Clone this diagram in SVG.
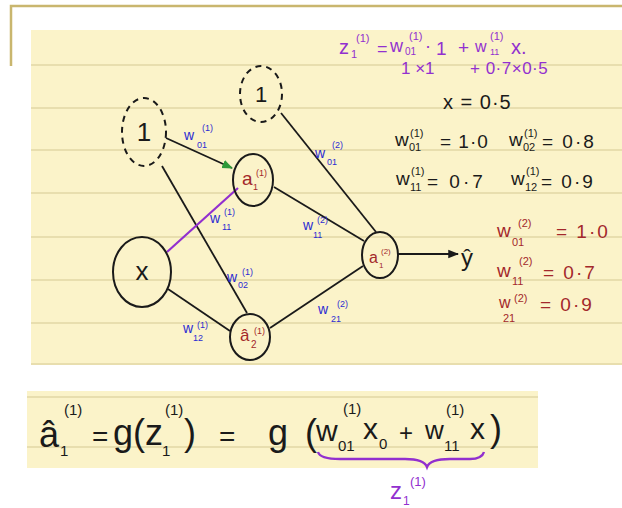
<svg xmlns="http://www.w3.org/2000/svg" width="622" height="508" viewBox="0 0 622 508">
<defs>
<style>
text{font-family:"Liberation Sans","DejaVu Sans",sans-serif;}
.paper{fill:#fbf3c9;}
.rule{stroke:#e2d7a4;stroke-width:1.5;}
.node{fill:none;stroke:#1a1a1a;stroke-width:2;}
.bias{fill:none;stroke:#1a1a1a;stroke-width:2;stroke-dasharray:6 5;}
.edge{stroke:#1a1a1a;stroke-width:1.8;fill:none;}
.blk{fill:#1a1a1a;}
.red{fill:#a3282b;}
.blu{fill:#2b2bd2;}
.pur{fill:#9230cf;}
.b{font-size:14px;}
.bs{font-size:9px;}
.eq{font-size:19px;}
.es{font-size:11px;}
.big{font-size:36px;}
.bsm{font-size:15px;}
</style>
<marker id="ga" viewBox="0 0 10 10" refX="9" refY="5" markerWidth="6" markerHeight="6" orient="auto"><path d="M0,1 L10,5 L0,9 z" fill="#2e9a3a"/></marker>
<marker id="ba" viewBox="0 0 10 10" refX="9" refY="5" markerWidth="6" markerHeight="6" orient="auto"><path d="M0,1 L10,5 L0,9 z" fill="#1a1a1a"/></marker>
</defs>

<!-- backdrop -->
<rect width="622" height="508" fill="#ffffff"/>
<polyline points="11,66 11,6 622,6" fill="none" stroke="#c9b66e" stroke-width="2.5"/>
<rect class="paper" x="31" y="30" width="591" height="335"/>
<g class="rule">
<line x1="31" y1="65" x2="622" y2="65"/>
<line x1="31" y1="108" x2="622" y2="108"/>
<line x1="31" y1="150" x2="622" y2="150"/>
<line x1="31" y1="193" x2="622" y2="193"/>
<line x1="31" y1="237" x2="622" y2="237"/>
<line x1="31" y1="280" x2="622" y2="280"/>
<line x1="31" y1="323" x2="622" y2="323"/>
<line x1="31" y1="364" x2="622" y2="364"/>
</g>
<rect class="paper" x="27" y="391" width="511" height="77"/>
<g class="rule">
<line x1="27" y1="397" x2="538" y2="397"/>
<line x1="27" y1="447" x2="538" y2="447"/>
</g>

<!-- connectors -->
<g id="connectors">
<line class="edge" x1="166" y1="138" x2="232" y2="168" marker-end="url(#ga)"/>
<line class="edge" x1="162" y1="166" x2="247" y2="313"/>
<line x1="167" y1="252" x2="238" y2="188" stroke="#9230cf" stroke-width="2.2"/>
<line class="edge" x1="168" y1="289" x2="230" y2="331"/>
<line class="edge" x1="274" y1="187" x2="364" y2="241"/>
<line class="edge" x1="270" y1="328" x2="363" y2="266"/>
<line class="edge" x1="281" y1="113" x2="376" y2="232"/>
<line class="edge" x1="398" y1="254" x2="458" y2="254" marker-end="url(#ba)"/>
</g>

<!-- edge labels -->
<g id="edge-labels" class="blu">
<text class="b" x="184" y="140">w</text><text class="bs" x="197" y="148">01</text><text class="bs" x="202" y="131">(1)</text>
<text class="b" x="210" y="223">w</text><text class="bs" x="222" y="230">11</text><text class="bs" x="224" y="215">(1)</text>
<text class="b" x="227" y="282">w</text><text class="bs" x="238" y="288">02</text><text class="bs" x="242" y="275">(1)</text>
<text class="b" x="183" y="333">w</text><text class="bs" x="193" y="341">12</text><text class="bs" x="197" y="328">(1)</text>
<text class="b" x="315" y="158">w</text><text class="bs" x="327" y="165">01</text><text class="bs" x="332" y="148">(2)</text>
<text class="b" x="303" y="230">w</text><text class="bs" x="313" y="238">11</text><text class="bs" x="317" y="223">(2)</text>
<text class="b" x="318" y="314">w</text><text class="bs" x="331" y="322">21</text><text class="bs" x="337" y="307">(2)</text>
</g>

<!-- nodes -->
<g id="bias1">
<ellipse class="bias" cx="144" cy="132" rx="22" ry="34"/>
<text class="blk" x="144" y="141" font-size="26" text-anchor="middle">1</text>
</g>
<g id="bias2">
<ellipse class="bias" cx="261" cy="94" rx="21" ry="28"/>
<text class="blk" x="261" y="102" font-size="22" text-anchor="middle">1</text>
</g>
<g id="input-x">
<ellipse class="node" cx="142" cy="272" rx="29" ry="35"/>
<text class="blk" x="142" y="280" font-size="26" text-anchor="middle">x</text>
</g>
<g id="a1-1">
<ellipse class="node" cx="253" cy="180" rx="20" ry="26"/>
<text class="red" x="242" y="185" font-size="19">a</text>
<text class="red" x="253" y="190" font-size="9">1</text>
<text class="red" x="256" y="176" font-size="9">(1)</text>
</g>
<g id="a2-1">
<ellipse class="node" cx="250" cy="337" rx="20" ry="23"/>
<text class="red" x="240" y="341" font-size="17">â</text>
<text class="red" x="251" y="348" font-size="10">2</text>
<text class="red" x="254" y="334" font-size="9">(1)</text>
</g>
<g id="a1-2">
<ellipse class="node" cx="380" cy="255" rx="18" ry="23"/>
<text class="red" x="369" y="263" font-size="16">a</text>
<text class="red" x="379" y="268" font-size="8">1</text>
<text class="red" x="381" y="254" font-size="8">(2)</text>
</g>
<g id="yhat">
<text class="blk" x="461" y="266" font-size="24">ŷ</text>
</g>

<!-- purple formula top -->
<g id="z-formula" class="pur">
<text x="339" y="54" font-size="20">z</text><text x="351" y="58" font-size="11">1</text><text x="356" y="42" font-size="11">(1)</text>
<text x="377" y="55" font-size="18">=</text>
<text x="390" y="52" font-size="18">w</text><text x="405" y="55" font-size="10">01</text><text x="409" y="40" font-size="11">(1)</text>
<text x="425" y="52" font-size="18">·</text><text x="436" y="55" font-size="19">1</text>
<text x="458" y="54" font-size="19">+</text>
<text x="475" y="52" font-size="16">w</text><text x="490" y="55" font-size="9">11</text><text x="490" y="40" font-size="11">(1)</text>
<text x="511" y="54" font-size="20">x.</text>
<text x="401" y="74" font-size="17">1 ×1</text>
<text x="470" y="74" font-size="17" letter-spacing="0.5">+ 0·7×0·5</text>
</g>

<!-- values -->
<g id="values-1" class="blk">
<text x="443" y="109" font-size="20" letter-spacing="1">x = 0·5</text>
<text class="eq" x="395" y="146">w</text><text class="es" x="409" y="151">01</text><text class="es" x="410" y="137">(1)</text><text class="eq" x="440" y="148" letter-spacing="1">= 1·0</text>
<text class="eq" x="509" y="146">w</text><text class="es" x="523" y="151">02</text><text class="es" x="524" y="137">(1)</text><text class="eq" x="542" y="148" letter-spacing="2">= 0·8</text>
<text class="eq" x="396" y="185">w</text><text class="es" x="410" y="191">11</text><text class="es" x="411" y="175">(1)</text><text class="eq" x="427" y="188" letter-spacing="3">= 0·7</text>
<text class="eq" x="511" y="185">w</text><text class="es" x="525" y="191">12</text><text class="es" x="526" y="175">(1)</text><text class="eq" x="541" y="188" letter-spacing="2">= 0·9</text>
</g>
<g id="values-2" class="red">
<text class="eq" x="497" y="237">w</text><text class="es" x="512" y="246">01</text><text class="es" x="518" y="227">(2)</text><text class="eq" x="556" y="238" letter-spacing="2">= 1·0</text>
<text class="eq" x="497" y="277">w</text><text class="es" x="512" y="285">11</text><text class="es" x="519" y="265">(2)</text><text class="eq" x="543" y="279" letter-spacing="2">= 0·7</text>
<text x="499" y="308" font-size="16">w</text><text class="es" x="503" y="322">21</text><text class="es" x="514" y="302">(2)</text><text class="eq" x="540" y="311" letter-spacing="2">= 0·9</text>
</g>

<!-- bottom equation -->
<g id="activation-eq" class="blk">
<text class="big" x="39" y="447">â</text>
<text class="bsm" x="60" y="456">1</text><text class="bsm" x="64" y="415">(1)</text>
<text x="92" y="446" font-size="28">=</text>
<text class="big" x="113" y="445">g</text><text class="big" x="133" y="445">(</text><text class="big" x="145" y="445">z</text>
<text class="bsm" x="162" y="456">1</text><text class="bsm" x="165" y="415">(1)</text><text class="big" x="184" y="445">)</text>
<text x="219" y="446" font-size="28">=</text>
<text class="big" x="268" y="445">g</text>
<text class="big" x="305" y="445">(</text>
<text x="316" y="441" font-size="30">w</text><text class="bsm" x="338" y="451">01</text><text class="bsm" x="343" y="414">(1)</text>
<text x="363" y="439" font-size="30">x</text><text class="bsm" x="379" y="449">0</text>
<text x="399" y="441" font-size="24">+</text>
<text x="425" y="439" font-size="26">w</text><text class="bsm" x="444" y="451">11</text><text class="bsm" x="446" y="415">(1)</text>
<text x="470" y="439" font-size="30">x</text><text class="big" x="490" y="441">)</text>
</g>
<g id="brace" class="pur">
<path d="M318,452 Q320,459 340,459 L405,459 Q424,459 427,467 Q430,459 450,459 L470,459 Q482,459 484,452" fill="none" stroke="#9230cf" stroke-width="2.4"/>
<text x="390" y="499" font-size="24">z</text><text x="403" y="505" font-size="12">1</text><text x="410" y="486" font-size="13">(1)</text>
</g>
</svg>
